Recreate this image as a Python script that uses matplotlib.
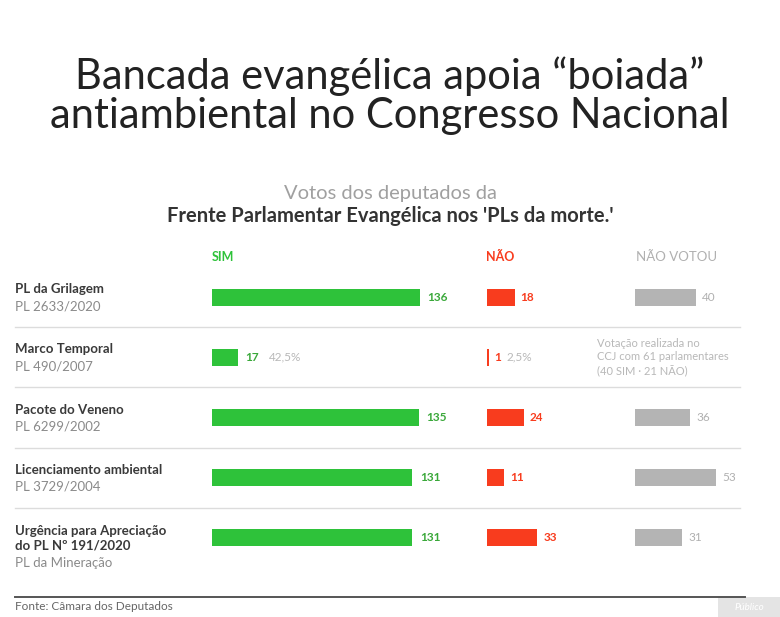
import matplotlib
matplotlib.use("Agg")
import matplotlib.pyplot as plt
from matplotlib.lines import Line2D
from matplotlib.patches import Rectangle

plt.rcParams['font.family'] = ['Lato', 'DejaVu Sans']

# data
nomes = ["PL da Grilagem", "Marco Temporal", "Pacote do Veneno",
         "Licenciamento ambiental", "Urgência para Apreciação\ndo PL Nº 191/2020"]
codigos = ["PL 2633/2020", "PL 490/2007", "PL 6299/2002", "PL 3729/2004", "PL da Mineração"]
sim = [136, 17, 135, 131, 131]
nao = [18, 1, 24, 11, 33]
nao_votou = [40, None, 36, 53, 31]
pct_sim = [None, "42,5%", None, None, None]
pct_nao = [None, "2,5%", None, None, None]
nota_marco = "Votação realizada no\nCCJ com 61 parlamentares\n(40 SIM · 21 NÃO)"

W, H = 780, 617
fig = plt.figure(figsize=(W / 100, H / 100), dpi=100)
fig.patch.set_facecolor("white")

def fx(px):
    return px / W

def fy(py):
    return 1 - py / H

VERDE = "#2ec23a"
VERMELHO = "#f83c1e"
CINZA = "#b4b4b4"

# titles
fig.text(0.5, fy(76), "Bancada evangélica apoia \u201cboiada\u201d", ha="center", va="center",
         fontsize=30, color="#222222")
fig.text(0.5, fy(116), "antiambiental no Congresso Nacional", ha="center", va="center",
         fontsize=30, color="#222222")
fig.text(0.5, fy(193), "Votos dos deputados da", ha="center", va="center",
         fontsize=14.5, color="#a0a0a0")
fig.text(0.5, fy(216), "Frente Parlamentar Evangélica nos 'PLs da morte.'", ha="center", va="center",
         fontsize=14.5, color="#333333", fontweight="bold")

# column headers
fig.text(fx(212), fy(257), "SIM", ha="left", va="center", fontsize=9, color=VERDE, fontweight="bold")
fig.text(fx(486), fy(257), "NÃO", ha="left", va="center", fontsize=9, color=VERMELHO, fontweight="bold")
fig.text(fx(636), fy(257), "NÃO VOTOU", ha="left", va="center", fontsize=9.5, color="#b0b0b0")

# bar axes: 1 vote = 1.53 px
escala = 1.53
top_px, bot_px = 267, 568
n = len(nomes)

def eixo(x0, largura):
    ax = fig.add_axes([fx(x0), fy(bot_px), fx(largura), (bot_px - top_px) / H])
    ax.set_xlim(0, largura / escala)
    ax.set_ylim(n - 0.5, -0.5)
    ax.axis("off")
    return ax

ax_sim = eixo(212, 260)
ax_nao = eixo(487, 110)
ax_nv = eixo(635, 120)

alt = 0.28
ys = list(range(n))
ax_sim.barh(ys, sim, height=alt, color=VERDE)
ax_nao.barh(ys, nao, height=alt, color=VERMELHO)
for i, v in enumerate(nao_votou):
    if v is not None:
        ax_nv.barh(i, v, height=alt, color=CINZA)

for i in ys:
    ax_sim.text(sim[i] + 5, i, str(sim[i]), va="center", ha="left", fontsize=8.5,
                color="#3aa83a", fontweight="bold")
    if pct_sim[i]:
        ax_sim.text(sim[i] + 20, i, pct_sim[i], va="center", ha="left", fontsize=8.5, color="#b8b8b8")
    ax_nao.text(nao[i] + 4, i, str(nao[i]), va="center", ha="left", fontsize=8.5,
                color=VERMELHO, fontweight="bold")
    if pct_nao[i]:
        ax_nao.text(nao[i] + 12, i, pct_nao[i], va="center", ha="left", fontsize=8.5, color="#b8b8b8")
    if nao_votou[i] is not None:
        ax_nv.text(nao_votou[i] + 4, i, str(nao_votou[i]), va="center", ha="left",
                   fontsize=8.5, color="#b0b0b0")
    else:
        ax_nv.text(-25, i, nota_marco, va="center", ha="left", fontsize=8,
                   color="#b8b8b8", linespacing=1.3)

# row labels
linha_y = [297 + 60.25 * i for i in ys]
for i in ys:
    yc = linha_y[i]
    if "\n" in nomes[i]:
        fig.text(fx(15), fy(yc), nomes[i], ha="left", va="center", fontsize=9.5,
                 color="#3a3a3a", fontweight="bold", linespacing=1.25)
        fig.text(fx(15), fy(yc + 25), codigos[i], ha="left", va="center", fontsize=9.5, color="#8a8a8a")
    else:
        fig.text(fx(15), fy(yc - 8), nomes[i], ha="left", va="center", fontsize=9.5,
                 color="#3a3a3a", fontweight="bold")
        fig.text(fx(15), fy(yc + 9), codigos[i], ha="left", va="center", fontsize=9.5, color="#8a8a8a")

# separators
for i in range(n - 1):
    yy = fy((linha_y[i] + linha_y[i + 1]) / 2)
    fig.add_artist(Line2D([fx(15), fx(740)], [yy, yy], color="#dcdcdc", lw=1))

# bottom rule and source
fig.add_artist(Line2D([fx(15), fx(745)], [fy(597), fy(597)], color="#555555", lw=1.4))
fig.text(fx(15), fy(607), "Fonte: Câmara dos Deputados", ha="left", va="center",
         fontsize=8.5, color="#666666")
fig.add_artist(Rectangle((fx(718), 0), fx(62), fy(597), transform=fig.transFigure,
                         facecolor="#e4e4e4", edgecolor="none"))
fig.text(fx(749), fy(607), "Público", ha="center", va="center", fontsize=7, color="white",
         fontstyle="italic")

fig.savefig("out.png", dpi=100, facecolor="white")
